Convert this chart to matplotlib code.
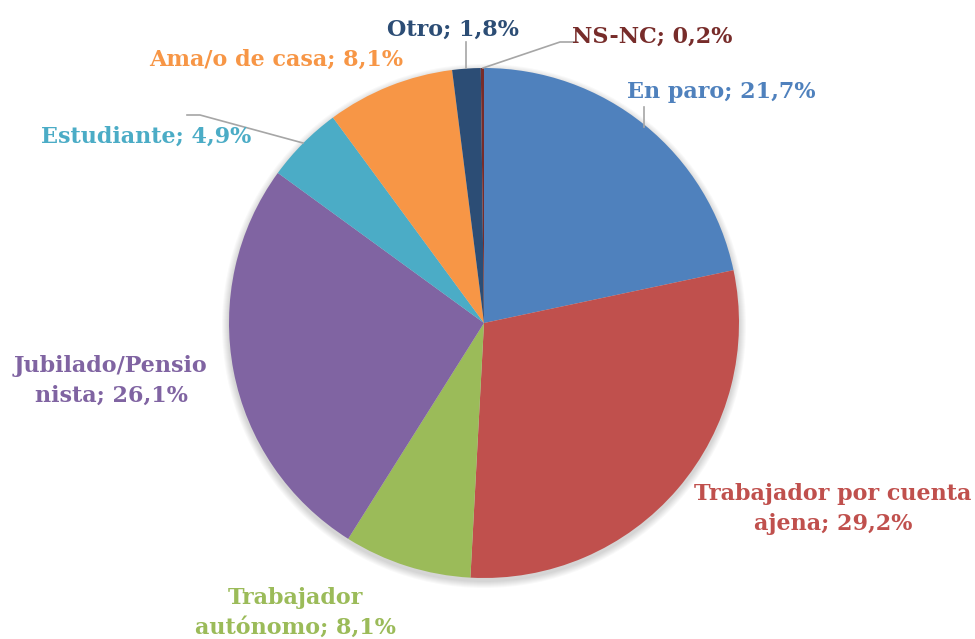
import matplotlib.pyplot as plt
from matplotlib.patches import Circle

# datos de la situacion laboral
etiquetas = ['En paro', 'Trabajador por cuenta\najena', 'Trabajador\nautónomo',
             'Jubilado/Pensio\nnista', 'Estudiante', 'Ama/o de casa', 'Otro', 'NS-NC']
valores = [21.7, 29.2, 8.1, 26.1, 4.9, 8.1, 1.8, 0.2]
colores = ['#4F81BD', '#C0504D', '#9BBB59', '#8064A2', '#4BACC6', '#F79646', '#2C4D75', '#772C2A']

# posicion de cada etiqueta (pixeles, y desde arriba)
pos_etiquetas = [(721, 92), (833, 509), (295, 613), (111, 381),
                 (146, 137), (276, 60), (453, 30), (652, 37)]

H = 639
fig = plt.figure(figsize=(9.75, 6.39), dpi=100)
ax = fig.add_axes([0, 0, 1, 1])

cx, cy, r = 484, H - 323, 255

# sombra suave
for k in range(7, 0, -1):
    ax.add_patch(Circle((cx, cy - 3), r + k, color='black', alpha=0.025, lw=0))

ax.pie(valores, colors=colores, startangle=90, counterclock=False,
       center=(cx, cy), radius=r, frame=True,
       wedgeprops={'linewidth': 0})
ax.set_xlim(0, 975)
ax.set_ylim(0, H)
ax.axis('off')

for et, v, c, (x, y) in zip(etiquetas, valores, colores, pos_etiquetas):
    txt = et + '; ' + ('%.1f' % v).replace('.', ',') + '%'
    ax.text(x, H - y, txt, color=c, fontsize=16, fontweight='bold',
            family='DejaVu Serif', ha='center', va='center', linespacing=1.5)

# lineas guia
gris = '#A6A6A6'
lineas = [
    [(644, 127), (644, 107)],
    [(466, 68), (466, 42)],
    [(483, 68), (560, 42), (577, 42)],
    [(303, 143), (200, 115), (187, 115)],
]
for l in lineas:
    xs = [p[0] for p in l]
    ys = [H - p[1] for p in l]
    ax.plot(xs, ys, color=gris, lw=1.2)

fig.savefig('out.png', dpi=100)
